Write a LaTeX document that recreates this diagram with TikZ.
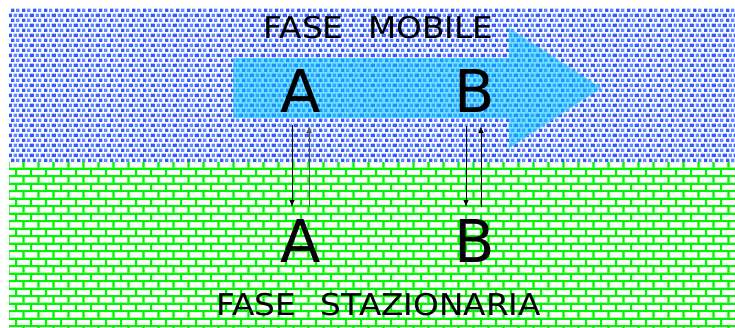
\documentclass[tikz,border=0pt]{standalone}
\usepackage{fontspec}
\setmainfont{DejaVu Sans}
\usetikzlibrary{patterns.meta,arrows.meta}
\definecolor{sqblue}{RGB}{50,90,255}
\definecolor{sqbluelight}{RGB}{95,135,255}
\definecolor{brickgreen}{RGB}{0,245,0}
\definecolor{arrowcyan}{RGB}{0,195,255}
\definecolor{upgray}{RGB}{85,85,85}
\tikzdeclarepattern{
  name=bluesquares, type=colored,
  bounding box={(0pt,0pt) and (11pt,10.4pt)},
  tile size={(11pt,10.4pt)},
  code={
    \fill[sqblue] (0pt,0pt) rectangle (3.6pt,3.6pt);
    \fill[sqbluelight] (5.5pt,0pt) rectangle (9.1pt,3.6pt);
    \fill[sqbluelight] (2.75pt,5.2pt) rectangle (6.35pt,8.8pt);
    \fill[sqblue] (8.25pt,5.2pt) rectangle (11pt,8.8pt);
    \fill[sqblue] (0pt,5.2pt) rectangle (0.85pt,8.8pt);
  }}
\tikzdeclarepattern{
  name=bricks, type=colored,
  bounding box={(0pt,0pt) and (15.4pt,15.34pt)},
  tile size={(15.4pt,15.34pt)},
  code={
    \fill[brickgreen] (0pt,0.8pt) rectangle (15.4pt,3.0pt);
    \fill[brickgreen] (0pt,8.47pt) rectangle (15.4pt,10.67pt);
    \fill[brickgreen] (0pt,3.0pt) rectangle (2.2pt,8.47pt);
    \fill[brickgreen] (7.7pt,10.67pt) rectangle (9.9pt,15.34pt);
    \fill[brickgreen] (7.7pt,0pt) rectangle (9.9pt,0.8pt);
  }}
\tikzset{
  bigletter/.style={font=\fontsize{59}{70}\selectfont, inner sep=0pt, anchor=base},
  phaselabel/.style={font=\fontsize{30}{36}\selectfont, inner sep=0pt, anchor=base},
  downarrow/.style={draw=black, line width=1pt, -{Latex[length=7pt,width=5.5pt]}},
  uparrow/.style={draw=upgray, line width=1pt, -{Latex[length=7pt,width=5.5pt]}},
  flowarrow/.style={fill=arrowcyan, fill opacity=0.55, draw=arrowcyan!60!white, draw opacity=0.5, line width=0.5pt}
}
\begin{document}
\begin{tikzpicture}[x=1pt,y=-1pt]
\useasboundingbox (0,0) rectangle (735,327);
% mobile phase
\fill[pattern=bluesquares] (9,8) rectangle (735,162);
% stationary phase
\fill[pattern=bricks] (9,162) rectangle (735,327);
% flow arrow
\path[flowarrow] (233,58) -- (509,58) -- (509,28) -- (601,88) -- (509,148) -- (509,118) -- (233,118) -- cycle;
% labels
\node[phaselabel] (mobile) at (378.5,38) {\scalebox{1.09}[1]{FASE\hspace{22.7pt}MOBILE}};
\node[phaselabel] (stat) at (378.5,315) {\scalebox{1.09}[1]{FASE\hspace{23pt}STAZIONARIA}};
\node[bigletter] (mA) at (301,112) {A};
\node[bigletter] (mB) at (475,112) {B};
\node[bigletter] (sA) at (301,262) {A};
\node[bigletter] (sB) at (475,262) {B};
% exchange arrows
\coordinate (aDs) at (292,125);
\coordinate (aDe) at (292,207);
\coordinate (aUs) at (309,207);
\coordinate (aUe) at (309,126);
\coordinate (bDs) at (466,126);
\coordinate (bDe) at (466,207);
\coordinate (bUs) at (481,207);
\coordinate (bUe) at (481,126);
\draw[downarrow] (aDs) -- (aDe);
\draw[uparrow] (aUs) -- (aUe);
\draw[downarrow] (bDs) -- (bDe);
\draw[downarrow] (bUs) -- (bUe);
\end{tikzpicture}
\end{document}
